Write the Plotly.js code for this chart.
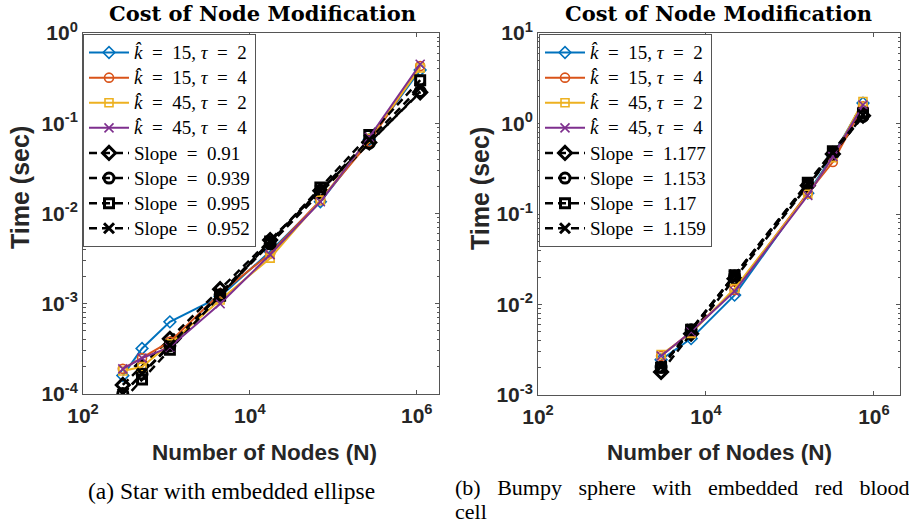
<!DOCTYPE html>
<html><head><meta charset="utf-8">
<script src="https://cdn.plot.ly/plotly-3.0.1.min.js"></script>
<style>html,body{margin:0;padding:0;background:#fff}#chart{width:909px;height:525px}</style>
</head><body><div id="chart"></div>
<script>
// ---------- Data: (a) Star with embedded ellipse ----------
const nodesA = [300, 510, 1100, 4400, 17500, 70000, 270000, 1100000];
const k15t2A = [1.6e-4, 3.2e-4, 6.3e-4, 1.2e-3, 3.8e-3, 0.0135, 0.066, 0.39];
const k15t4A = [1.9e-4, 2.5e-4, 3.8e-4, 1.3e-3, 3.6e-3, 0.014, 0.062, 0.43];
const k45t2A = [1.8e-4, 2.0e-4, 3.6e-4, 1.1e-3, 3.2e-3, 0.014, 0.068, 0.41];
const k45t4A = [1.9e-4, 2.5e-4, 3.3e-4, 1.0e-3, 3.5e-3, 0.0135, 0.070, 0.45];
const fit1A = [1.26e-4, 2.04e-4, 4.09e-4, 1.45e-3, 5.08e-3, 0.0179, 0.0612, 0.22];
const fit2A = [1.01e-4, 1.67e-4, 3.43e-4, 1.26e-3, 4.61e-3, 0.0169, 0.0601, 0.225];
const fit3A = [8.5e-5, 1.45e-4, 3.10e-4, 1.23e-3, 4.88e-3, 0.0194, 0.0741, 0.30];
const fit4A = [1.01e-4, 1.68e-4, 3.48e-4, 1.30e-3, 4.85e-3, 0.0182, 0.0656, 0.25];
const slopesA = ['0.91', '0.939', '0.995', '0.952'];

// ---------- Data: (b) Bumpy sphere with embedded red blood cell ----------
const nodesB = [2920, 6650, 21900, 163000, 324000, 740000];
const k15t2B = [2.45e-3, 4.2e-3, 0.0127, 0.17, 0.44, 1.68];
const k15t4B = [2.7e-3, 5.0e-3, 0.0145, 0.17, 0.375, 1.55];
const k45t2B = [2.8e-3, 4.8e-3, 0.015, 0.165, 0.42, 1.75];
const k45t4B = [2.7e-3, 5.0e-3, 0.014, 0.16, 0.43, 1.6];
const fit1B = [1.80e-3, 4.76e-3, 0.0193, 0.206, 0.46, 1.22];
const fit2B = [2.03e-3, 5.25e-3, 0.0207, 0.21, 0.46, 1.2];
const fit3B = [2.0e-3, 5.25e-3, 0.0211, 0.221, 0.494, 1.3];
const fit4B = [2.05e-3, 5.32e-3, 0.0211, 0.217, 0.48, 1.25];
const slopesB = ['1.177', '1.153', '1.17', '1.159'];

// ---------- Tick labels ----------
const xTickVals = [1e2, 1e4, 1e6];
const xTickText = ['10<sup>2</sup>', '10<sup>4</sup>', '10<sup>6</sup>'];
const yTickValsA = [1e-4, 1e-3, 1e-2, 1e-1, 1];
const yTickTextA = ['10<sup>-4</sup>', '10<sup>-3</sup>', '10<sup>-2</sup>', '10<sup>-1</sup>', '10<sup>0</sup>'];
const yTickValsB = [1e-3, 1e-2, 1e-1, 1, 10];
const yTickTextB = ['10<sup>-3</sup>', '10<sup>-2</sup>', '10<sup>-1</sup>', '10<sup>0</sup>', '10<sup>1</sup>'];
const seriesNames = ['<i>k̂</i>\u2002=\u200215, <i>τ</i>\u2002=\u20022', '<i>k̂</i>\u2002=\u200215, <i>τ</i>\u2002=\u20024',
                     '<i>k̂</i>\u2002=\u200245, <i>τ</i>\u2002=\u20022', '<i>k̂</i>\u2002=\u200245, <i>τ</i>\u2002=\u20024'];

// ---------- Styles ----------
const W = 909, H = 525;
const px = v => v / W, py = v => 1 - v / H;
const colors = ['#0072BD', '#D95319', '#EDB120', '#7E2F8E'];
const symbols = ['diamond-open', 'circle-open', 'square-open', 'x-thin-open'];
const sizes = [9, 9, 8, 9];
const big = s => '<span style="font-size:19px">' + s + '</span>';

function buildTraces(nodes, series, fits, slopes, xa, ya, leg) {
  const out = [];
  for (let i = 0; i < 4; i++) {
    out.push({
      x: nodes, y: series[i], xaxis: xa, yaxis: ya, legend: leg, legendrank: i + 1,
      type: 'scatter', mode: 'lines+markers', name: big(seriesNames[i]),
      line: {color: colors[i], width: 2},
      marker: {symbol: symbols[i], size: sizes[i], color: colors[i], line: {color: colors[i], width: 1.6}},
      hoverinfo: 'skip'
    });
    out.push({
      x: nodes, y: fits[i], xaxis: xa, yaxis: ya, legend: leg, legendrank: i + 5,
      type: 'scatter', mode: 'lines+markers', name: big('Slope\u2002=\u2002' + slopes[i]),
      line: {color: '#000', width: 2.5, dash: '8px,5px'},
      marker: {symbol: symbols[i], size: sizes[i] + 1, color: '#000', line: {color: '#000', width: 3}},
      hoverinfo: 'skip'
    });
  }
  return out;
}

const traces = [].concat(
  buildTraces(nodesA, [k15t2A, k15t4A, k45t2A, k45t4A], [fit1A, fit2A, fit3A, fit4A], slopesA, 'x', 'y', 'legend'),
  buildTraces(nodesB, [k15t2B, k15t4B, k45t2B, k45t4B], [fit1B, fit2B, fit3B, fit4B], slopesB, 'x2', 'y2', 'legend2')
);

const axCommon = {
  type: 'log', showgrid: false, zeroline: false, showline: true, linecolor: '#555', linewidth: 1,
  mirror: 'allticks', ticks: 'inside', ticklen: 4, tickcolor: '#555', tickmode: 'array',
  tickfont: {family: 'Liberation Sans, Arial, sans-serif', size: 21, color: '#262626', weight: 'bold'}
};
const yMinor = {ticks: 'inside', ticklen: 2.5, tickcolor: '#555', dtick: 'D1', showgrid: false};

const xTitleFont = {family: 'Liberation Sans, Arial, sans-serif', size: 22.5, color: '#262626', weight: 'bold'};
const yTitleFont = {family: 'Liberation Sans, Arial, sans-serif', size: 25, color: '#262626', weight: 'bold'};
const titleFont = {family: 'DejaVu Serif, serif', size: 21, color: '#000', weight: 'bold'};
const capFontA = {family: 'Liberation Serif, serif', size: 23.5, color: '#000'};
const capFontB = {family: 'Liberation Serif, serif', size: 22, color: '#000'};

const legCommon = {
  xanchor: 'left', yanchor: 'top', bgcolor: '#fff', bordercolor: '#555', borderwidth: 1,
  font: {family: 'Liberation Serif, serif', size: 17, color: '#000'}, itemwidth: 40, tracegroupgap: 0
};
const gap = '\u2002\u2005';

const layout = {
  width: W, height: H, margin: {l: 0, r: 0, t: 0, b: 0},
  paper_bgcolor: '#fff', plot_bgcolor: '#fff', showlegend: true,
  xaxis: Object.assign({}, axCommon, {domain: [px(83), px(439)], range: [2, 6.267], tickvals: xTickVals, ticktext: xTickText, anchor: 'y', ticklabelstandoff: 3}),
  yaxis: Object.assign({}, axCommon, {domain: [py(394), py(33)], range: [-4, 0], tickvals: yTickValsA, ticktext: yTickTextA, anchor: 'x', minor: yMinor}),
  xaxis2: Object.assign({}, axCommon, {domain: [px(538), px(900)], range: [2, 6.31], tickvals: xTickVals, ticktext: xTickText, anchor: 'y2', ticklabelstandoff: 3}),
  yaxis2: Object.assign({}, axCommon, {domain: [py(395), py(33)], range: [-3, 1], tickvals: yTickValsB, ticktext: yTickTextB, anchor: 'x2', minor: yMinor}),
  legend: Object.assign({}, legCommon, {x: px(83), y: py(34)}),
  legend2: Object.assign({}, legCommon, {x: px(539), y: py(34)}),
  annotations: [
    {text: 'Cost of Node Modification', x: px(262), y: py(14), xref: 'paper', yref: 'paper', showarrow: false, font: titleFont, xanchor: 'center', yanchor: 'middle'},
    {text: 'Cost of Node Modification', x: px(718), y: py(14), xref: 'paper', yref: 'paper', showarrow: false, font: titleFont, xanchor: 'center', yanchor: 'middle'},
    {text: 'Time (sec)', x: px(20), y: py(188), xref: 'paper', yref: 'paper', showarrow: false, font: yTitleFont, textangle: -90, xanchor: 'center', yanchor: 'middle'},
    {text: 'Time (sec)', x: px(480), y: py(188), xref: 'paper', yref: 'paper', showarrow: false, font: yTitleFont, textangle: -90, xanchor: 'center', yanchor: 'middle'},
    {text: 'Number of Nodes (N)', x: px(264), y: py(452), xref: 'paper', yref: 'paper', showarrow: false, font: xTitleFont, xanchor: 'center', yanchor: 'middle'},
    {text: 'Number of Nodes (N)', x: px(719), y: py(452), xref: 'paper', yref: 'paper', showarrow: false, font: xTitleFont, xanchor: 'center', yanchor: 'middle'},
    {text: '(a) Star with embedded ellipse', x: px(231), y: py(491), xref: 'paper', yref: 'paper', showarrow: false, font: capFontA, xanchor: 'center', yanchor: 'middle'},
    {text: '(b)' + gap + 'Bumpy' + gap + 'sphere' + gap + 'with' + gap + 'embedded' + gap + 'red' + gap + 'blood', x: px(454), y: py(487), xref: 'paper', yref: 'paper', showarrow: false, font: capFontB, xanchor: 'left', yanchor: 'middle', align: 'left', borderpad: 0},
    {text: 'cell', x: px(454), y: 0, xref: 'paper', yref: 'paper', showarrow: false, font: capFontB, xanchor: 'left', yanchor: 'bottom', align: 'left', borderpad: 0}
  ]
};

Plotly.newPlot('chart', traces, layout, {displayModeBar: false, staticPlot: true});
</script>
</body></html>
